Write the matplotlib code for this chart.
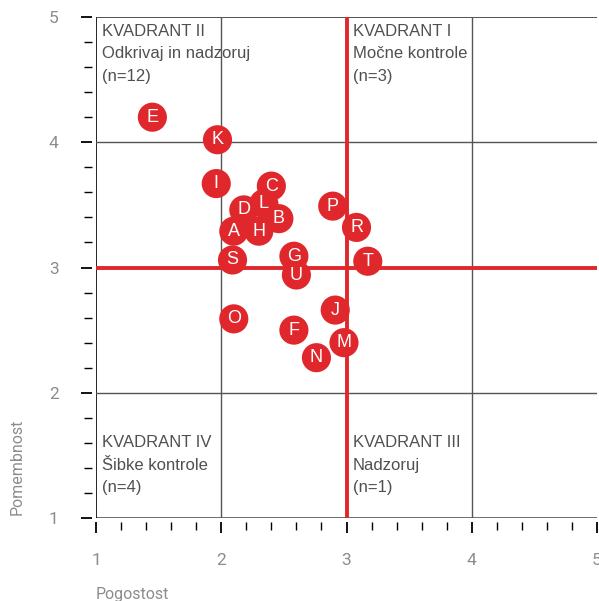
import matplotlib
matplotlib.use("Agg")
import matplotlib.pyplot as plt
from matplotlib.ticker import MultipleLocator

# risk labels with frequency (x) and importance (y)
labels = ["A", "B", "C", "D", "E", "F", "G", "H", "I", "J", "K",
          "L", "M", "N", "O", "P", "R", "S", "T", "U"]
pogostost = [2.10, 2.46, 2.40, 2.18, 1.45, 2.58, 2.58, 2.30, 1.96, 2.91, 1.97,
             2.34, 2.98, 2.76, 2.10, 2.89, 3.08, 2.09, 3.17, 2.60]
pomembnost = [3.29, 3.39, 3.65, 3.46, 4.20, 2.50, 3.09, 3.29, 3.67, 2.66, 4.02,
              3.51, 2.40, 2.28, 2.59, 3.49, 3.32, 3.06, 3.05, 2.94]

quadrants = [
    (1.05, 4.945, "KVADRANT II\nOdkrivaj in nadzoruj\n(n=12)"),
    (3.05, 4.945, "KVADRANT I\nMočne kontrole\n(n=3)"),
    (1.05, 1.66, "KVADRANT IV\nŠibke kontrole\n(n=4)"),
    (3.05, 1.66, "KVADRANT III\nNadzoruj\n(n=1)"),
]

red = "#e0282c"
grid = "#555555"
light = "#8c8c8c"
thin = ["Roboto", "DejaVu Sans"]
sans = ["Liberation Sans", "DejaVu Sans"]

fig = plt.figure(figsize=(5.99, 6.01), dpi=100)
ax = fig.add_axes([96/599, 83/601, 501/599, 501/601])
ax.set_xlim(1, 5)
ax.set_ylim(1, 5)

for s in ["top", "right"]:
    ax.spines[s].set_visible(False)
for s in ["bottom", "left"]:
    ax.spines[s].set_position(("outward", 3))
    ax.spines[s].set_visible(False)

ax.axhline(1, color=grid, lw=1.2, zorder=2)
ax.axvline(1, color="black", lw=1.2, zorder=2)
ax.axhline(5, color="#333333", lw=1.2, zorder=2)
for v in [2, 4]:
    ax.axhline(v, color=grid, lw=1.0, zorder=2)
    ax.axvline(v, color=grid, lw=1.0, zorder=2)
ax.axhline(3, color=red, lw=2.8, zorder=3)
ax.axvline(3, color=red, lw=2.8, zorder=3)

ax.xaxis.set_major_locator(MultipleLocator(1))
ax.xaxis.set_minor_locator(MultipleLocator(0.2))
ax.yaxis.set_major_locator(MultipleLocator(1))
ax.yaxis.set_minor_locator(MultipleLocator(0.2))
ax.xaxis.set_major_formatter(lambda v, pos: f"{v:.0f}")
ax.yaxis.set_major_formatter(lambda v, pos: f"{v:.0f}")
ax.tick_params(which="major", direction="out", length=8, width=1.3, color="black")
ax.tick_params(which="minor", direction="out", length=6, width=1.0, color="black")
ax.tick_params(axis="x", which="major", pad=14, labelsize=12.5, labelcolor=light)
ax.tick_params(axis="y", which="major", pad=16, labelsize=12.5, labelcolor=light)
for t in ax.get_xticklabels() + ax.get_yticklabels():
    t.set_family(thin)

ax.scatter(pogostost, pomembnost, s=440, color=red, edgecolors="none", zorder=5, clip_on=False)
for lab, x, y in zip(labels, pogostost, pomembnost):
    ax.text(x, y, lab, color="white", fontsize=13, ha="center", va="center",
            family=sans, zorder=6)

for x, y, txt in quadrants:
    ax.text(x, y, txt, fontsize=12, color="#505050", ha="left", va="top",
            linespacing=1.62, family=sans, zorder=4)

fig.text(96/599, 2/601, "Pogostost", fontsize=11.5, color=light, family=thin,
         ha="left", va="baseline")
fig.text(17/599, 86/601, "Pomembnost", fontsize=11.5, color=light, family=thin,
         rotation=90, ha="center", va="bottom")

fig.savefig("out.png", dpi=100)
